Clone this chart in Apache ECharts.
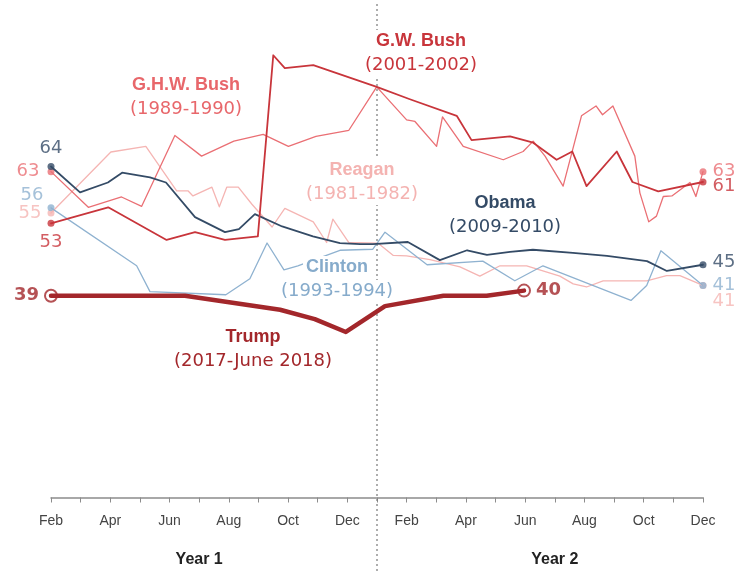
<!DOCTYPE html>
<html>
<head>
<meta charset="utf-8">
<script src="https://cdn.jsdelivr.net/npm/echarts@6/dist/echarts.min.js"></script>
<style>
html,body{margin:0;padding:0;background:#fff}
#chart{width:739px;height:573px}
</style>
</head>
<body>
<div id="chart"></div>
<script>
// month index 0 = Feb of year 1, 22 = Dec of year 2
var monthLabels = ['Feb','Mar','Apr','May','Jun','Jul','Aug','Sep','Oct','Nov','Dec','Jan',
                   'Feb','Mar','Apr','May','Jun','Jul','Aug','Sep','Oct','Nov','Dec'];

// [month, approval %]
var reagan = [[0,55],[2.02,66.8],[3.2,67.9],[4.24,59.3],[4.62,59.3],[4.79,58.3],[5.43,60],[5.68,56.2],
  [5.93,60],[6.32,60],[6.78,56.7],[7.46,52.3],[7.89,55.9],[8.85,53.3],[9.3,49.3],[9.51,53.8],[10.05,49.3],
  [11.03,49.2],[11.55,46.8],[12,46.7],[12.79,46],[13.8,44.6],[14.47,42.8],[15.15,44.8],[16.05,44.8],
  [17.17,42.8],[17.62,41.3],[18.07,40.7],[18.63,41.9],[20.1,41.9],[20.77,42.9],[21.22,42.9],[22,41]];

var clinton = [[0,56],[2.89,44.8],[3.34,39.8],[5.9,39.2],[6.71,42.3],[7.29,49.2],[7.86,44],[8.33,44.8],
  [9.75,47.8],[10.86,48],[11.27,51.3],[12.69,45],[14.57,45.7],[15.65,41.9],[16.6,44.8],[19.57,38.1],
  [20.1,41],[20.58,47.7],[22,41]];

var ghwBush = [[0,63],[1.26,56.1],[2.38,58.1],[3.06,56.3],[4.18,70],[5.08,66],[6.17,68.9],[7.16,70.2],
  [8.01,67.9],[8.94,69.8],[10.05,71],[10.99,79.4],[12,73],[12.28,72.7],[13.01,67.9],[13.21,73.6],
  [13.91,67.9],[15.26,65.3],[15.93,66.9],[16.27,68.9],[16.67,66],[17.28,60.2],[17.9,73.8],[18.39,75.7],
  [18.61,74],[18.96,75.7],[19.7,66],[19.87,58.9],[20.17,53.3],[20.43,54.4],[20.66,58.2],[20.95,58.3],
  [21.56,60.9],[21.76,58.2],[22,63]];

var obama = [[0,64],[0.98,59],[1.92,60.9],[2.4,62.8],[3.34,61.9],[3.88,60.9],[4.86,54.2],[5.87,51.3],
  [6.34,51.9],[6.88,54.8],[7.8,52.4],[8.84,50.5],[9.75,49.2],[10.43,49],[10.86,49],[12.04,49.4],
  [13.12,45.9],[14.04,47.8],[14.71,46.9],[15.49,47.5],[16.26,47.9],[17.61,47.3],[18.76,46.7],
  [20.11,45.7],[20.78,43.8],[22,45]];

var gwBush = [[0,53],[1.93,56.1],[3.9,49.8],[4.86,51.3],[5.87,49.8],[6.98,50.5],[7.5,85.5],[7.89,83],
  [8.85,83.6],[10.99,79.4],[12.11,77],[13.69,73.8],[14.19,69.1],[15.49,69.8],[16.27,68.6],[17.06,65.3],
  [17.59,66.9],[18.07,60.2],[19.09,66.9],[19.62,61],[20.49,59.2],[22,61]];

var trump = [[0,39],[4.52,39],[7.73,36.3],[8.9,34.5],[9.95,32],[11.27,37],[13.24,39],[14.7,39],[15.96,40]];

var C = {
  reagan: '#f5b5b3', clinton: '#8fb2d0', ghw: '#ea6f74', obama: '#344b66', gw: '#c8353b', trump: '#a3272b'
};
var numFont = 'DejaVu Sans';

function line(data, color, width) {
  return {
    type: 'line', data: data, symbol: 'none', showSymbol: false, silent: true,
    lineStyle: {color: color, width: width, join: 'round', cap: 'round'}
  };
}

function ends(data, color, firstLabel, lastLabel) {
  var pts = [{value: data[0], label: firstLabel}, {value: data[data.length - 1], label: lastLabel}];
  return {
    type: 'scatter', data: pts, symbol: 'circle', symbolSize: 7, silent: true,
    itemStyle: {color: color},
    label: {show: true, color: color, fontFamily: numFont, fontSize: 18,
            formatter: function (p) { return p.value[1]; }}
  };
}

var chart = echarts.init(document.getElementById('chart'));

var series = [
  line(reagan, C.reagan, 1.3),
  line(clinton, C.clinton, 1.3),
  line(ghwBush, C.ghw, 1.3),
  line(obama, C.obama, 1.8),
  line(gwBush, C.gw, 1.8),
  line(trump, C.trump, 4.5),
  ends(reagan, C.reagan, {position: 'left', distance: 6}, {position: 'right', distance: 6, offset: [0, 16]}),
  ends(ghwBush, C.ghw, {position: 'left', distance: 8}, {position: 'right', distance: 6}),
  ends(gwBush, C.gw, {position: 'bottom', distance: 6}, {position: 'right', distance: 6, offset: [0, 4]}),
  ends(obama, C.obama, {position: 'top', distance: 6}, {position: 'right', distance: 6, offset: [0, -2]}),
  ends(clinton, C.clinton, {position: 'left', distance: 4, offset: [0, -13]}, {position: 'right', distance: 6})
];

var trumpEnds = ends(trump, C.trump, {position: 'left', distance: 5}, {position: 'right', distance: 5});
trumpEnds.symbolSize = 12;
trumpEnds.itemStyle = {color: '#fff', borderColor: C.trump, borderWidth: 2};
trumpEnds.label.fontWeight = 'bold';
series.push(trumpEnds);

chart.setOption({
  animation: false,
  grid: {left: 51, right: 36, top: 32, bottom: 75.5},
  xAxis: {
    type: 'value', min: 0, max: 22, interval: 1,
    axisLine: {lineStyle: {color: '#8c8c8c', width: 1.5}},
    axisTick: {length: 5, lineStyle: {color: '#8c8c8c'}},
    splitLine: {show: false},
    axisLabel: {
      margin: 17, color: '#444', fontFamily: 'Liberation Sans', fontSize: 14,
      formatter: function (v) { return v % 2 === 0 ? monthLabels[v] : ''; }
    }
  },
  yAxis: {type: 'value', min: 0, max: 90, show: false},
  series: series
});

// annotations
var divX = chart.convertToPixel({xAxisIndex: 0}, 11);
var y1X = chart.convertToPixel({xAxisIndex: 0}, 5);
var y2X = chart.convertToPixel({xAxisIndex: 0}, 17);

function name(x, y, title, years, color) {
  return [
    {type: 'text', x: x, y: y, z: 100,
     style: {text: title, fill: color, font: 'bold 18px "Liberation Sans"', textAlign: 'center', align: 'center',
             textVerticalAlign: 'middle', verticalAlign: 'middle', backgroundColor: '#fff', padding: [2, 3]}},
    {type: 'text', x: x, y: y + 24, z: 100,
     style: {text: years, fill: color, font: '18px "DejaVu Sans"', textAlign: 'center', align: 'center',
             textVerticalAlign: 'middle', verticalAlign: 'middle', backgroundColor: '#fff', padding: [2, 3]}}
  ];
}

var g = [
  {type: 'line', z: 1, shape: {x1: divX, y1: 4, x2: divX, y2: 573},
   style: {stroke: '#777', lineWidth: 1.2, lineDash: [2, 3]}},
  {type: 'text', x: y1X, y: 560, z: 100,
   style: {text: 'Year 1', fill: '#222', font: 'bold 16px "Liberation Sans"', textAlign: 'center', align: 'center',
           textVerticalAlign: 'middle', verticalAlign: 'middle'}},
  {type: 'text', x: y2X, y: 560, z: 100,
   style: {text: 'Year 2', fill: '#222', font: 'bold 16px "Liberation Sans"', textAlign: 'center', align: 'center',
           textVerticalAlign: 'middle', verticalAlign: 'middle'}}
];
g = g.concat(name(186, 85, 'G.H.W. Bush', '(1989-1990)', '#e8676b'));
g = g.concat(name(421, 41, 'G.W. Bush', '(2001-2002)', C.gw));
g = g.concat(name(362, 170, 'Reagan', '(1981-1982)', '#f4b3b1'));
g = g.concat(name(505, 203, 'Obama', '(2009-2010)', C.obama));
g = g.concat(name(337, 267, 'Clinton', '(1993-1994)', '#86abcb'));
g = g.concat(name(253, 337, 'Trump', '(2017-June 2018)', C.trump));

chart.setOption({graphic: g});
</script>
</body>
</html>
